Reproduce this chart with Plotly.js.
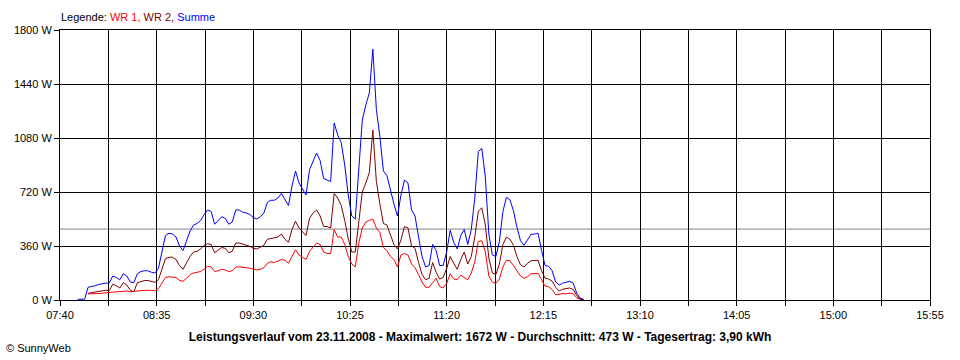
<!DOCTYPE html>
<html>
<head>
<meta charset="utf-8">
<script src="https://cdn.plot.ly/plotly-3.0.1.min.js"></script>
<style>
  html, body { margin: 0; padding: 0; background: #ffffff; }
  #chart { width: 960px; height: 360px; }
</style>
</head>
<body>
<div id="chart"></div>
<script>
// ---- data ----
var dateStr = '2008-11-23';

var times = [
  '07:50','07:52','07:54','07:56','07:58',
  '08:00','08:02','08:04','08:06','08:08',
  '08:10','08:12','08:14','08:16','08:18',
  '08:20','08:22','08:24','08:26','08:28',
  '08:30','08:32','08:34','08:36','08:38',
  '08:40','08:42','08:44','08:46','08:48',
  '08:50','08:52','08:54','08:56','08:58',
  '09:00','09:02','09:04','09:06','09:08',
  '09:10','09:12','09:14','09:16','09:18',
  '09:20','09:22','09:24','09:26','09:28',
  '09:30','09:32','09:34','09:36','09:38',
  '09:40','09:42','09:44','09:46','09:48',
  '09:50','09:52','09:54','09:56','09:58',
  '10:00','10:02','10:04','10:06','10:08',
  '10:10','10:12','10:14','10:16','10:18',
  '10:20','10:22','10:24','10:26','10:28',
  '10:30','10:32','10:34','10:36','10:38',
  '10:40','10:42','10:44','10:46','10:48',
  '10:50','10:52','10:54','10:56','10:58',
  '11:00','11:02','11:04','11:06','11:08',
  '11:10','11:12','11:14','11:16','11:18',
  '11:20','11:22','11:24','11:26','11:28',
  '11:30','11:32','11:34','11:36','11:38',
  '11:40','11:42','11:44','11:46','11:48',
  '11:50','11:52','11:54','11:56','11:58',
  '12:00','12:02','12:04','12:06','12:08',
  '12:10','12:12','12:14','12:16','12:18',
  '12:20','12:22','12:24','12:26','12:28',
  '12:30','12:32','12:34','12:36','12:38',
  '12:40','12:42','12:44','12:46','12:48',
  '12:50','12:52','12:54','12:56','12:58'
];

var summe = [
  5,5,5,85,88,
  95,103,110,113,112,
  160,150,135,175,160,
  120,115,175,190,195,
  195,185,180,210,320,
  430,445,440,420,360,
  330,390,460,500,510,
  530,570,600,590,505,
  530,555,545,505,520,
  600,600,585,580,570,
  550,540,555,580,650,
  665,665,680,710,670,
  630,760,860,780,740,
  700,870,930,980,930,
  810,800,790,1180,1100,
  1050,900,700,560,540,
  900,1200,1300,1380,1672,
  1270,1090,860,830,730,
  640,560,700,800,780,
  600,560,420,290,220,
  230,370,330,230,230,
  320,465,385,340,430,
  470,370,470,680,990,
  1010,820,440,300,290,
  390,590,685,667,595,
  485,395,365,400,437,
  440,445,330,230,225,
  195,120,100,112,117,
  125,112,45,12,5
];

var wr2 = [
  null,null,null,45,50,
  55,60,65,65,62,
  105,95,80,115,100,
  65,55,115,125,130,
  130,122,118,135,210,
  275,285,285,270,230,
  205,245,290,320,325,
  340,365,375,370,315,
  335,350,345,315,325,
  380,380,370,365,358,
  345,340,350,365,405,
  410,415,420,440,405,
  385,470,525,480,455,
  430,545,580,600,560,
  490,490,480,710,680,
  630,530,410,320,320,
  520,720,780,850,1133,
  790,640,510,500,440,
  370,340,400,490,480,
  360,345,250,170,135,
  145,250,185,140,150,
  210,290,245,205,270,
  320,240,290,420,590,
  615,500,280,180,170,
  240,370,420,405,365,
  290,235,220,245,262,
  262,265,195,145,140,
  125,85,60,72,75,
  80,70,30,5,0
];

var wr1 = [
  null,null,null,40,40,
  42,45,45,48,50,
  55,55,55,60,60,
  55,60,60,62,65,
  65,63,62,75,110,
  150,155,155,150,130,
  125,145,170,180,185,
  190,205,225,220,190,
  195,205,200,190,195,
  220,220,215,215,212,
  205,200,205,215,245,
  255,250,260,270,265,
  245,290,335,300,285,
  270,325,350,380,370,
  320,310,310,470,420,
  420,370,290,240,220,
  380,480,520,530,539,
  480,450,350,330,290,
  270,220,300,310,300,
  240,215,170,120,85,
  85,115,145,90,80,
  110,175,140,135,165,
  150,135,180,255,390,
  395,320,160,120,110,
  140,220,265,262,230,
  195,160,145,155,175,
  178,178,135,92,88,
  70,35,40,42,42,
  45,42,15,5,0
];

var averageW = 473;

var xTickVals = ['07:40:00','08:07:30','08:35:00','09:02:30','09:30:00','09:57:30','10:25:00',
                 '10:52:30','11:20:00','11:47:30','12:15:00','12:42:30','13:10:00','13:37:30',
                 '14:05:00','14:32:30','15:00:00','15:27:30','15:55:00'];
var xTickText = ['07:40','','08:35','','09:30','','10:25','','11:20','','12:15','',
                 '13:10','','14:05','','15:00','','15:55'];
var yTickVals = [0, 360, 720, 1080, 1440, 1800];
var yTickText = ['0 W', '360 W', '720 W', '1080 W', '1440 W', '1800 W'];

var titleText = 'Leistungsverlauf vom 23.11.2008 - Maximalwert: 1672 W - Durchschnitt: 473 W - Tagesertrag: 3,90 kWh';
var legendPrefix = 'Legende: ';
var seriesNames = ['WR 1', 'WR 2', 'Summe'];
var seriesColors = ['#ff0000', '#800000', '#0000ff'];
var copyright = '\u00a9 SunnyWeb';

// ---- build ----
function toDate(t) { return dateStr + ' ' + t; }
var xs = times.map(toDate);

var traces = [wr1, wr2, summe].map(function (ys, i) {
  return {
    x: xs, y: ys, type: 'scatter', mode: 'lines', name: seriesNames[i],
    line: { color: seriesColors[i], width: 1 },
    connectgaps: false, hoverinfo: 'skip'
  };
});

var fontFam = '"Liberation Sans", Arial, Helvetica, sans-serif';

var legendHtml = legendPrefix +
  '<span style="color:' + seriesColors[0] + '">' + seriesNames[0] + ',</span> ' +
  '<span style="color:' + seriesColors[1] + '">' + seriesNames[1] + ',</span> ' +
  '<span style="color:' + seriesColors[2] + '">' + seriesNames[2] + '</span>';

var layout = {
  width: 960, height: 360,
  margin: { l: 60, r: 30, t: 30, b: 60, pad: 0 },
  paper_bgcolor: '#ffffff', plot_bgcolor: '#ffffff',
  font: { family: fontFam, size: 11, color: '#000000' },
  showlegend: false,
  title: {
    text: '<b>' + titleText + '</b>',
    xref: 'container', x: 0.5, xanchor: 'center',
    yref: 'container', y: 1 - 337 / 360, yanchor: 'middle',
    font: { family: fontFam, size: 12, color: '#000000' }
  },
  xaxis: {
    type: 'date',
    range: [toDate('07:40'), toDate('15:55')],
    tickmode: 'array',
    tickvals: xTickVals.map(toDate),
    ticktext: xTickText,
    ticks: 'outside', ticklen: 5, tickwidth: 1, tickcolor: '#000000',
    showgrid: true, gridcolor: '#000000', gridwidth: 1,
    showline: true, linecolor: '#000000', linewidth: 1, mirror: true,
    zeroline: false, fixedrange: true,
    tickfont: { family: fontFam, size: 11, color: '#000000' }
  },
  yaxis: {
    range: [0, 1800],
    tickmode: 'array', tickvals: yTickVals, ticktext: yTickText,
    ticks: 'outside', ticklen: 5, tickwidth: 1, tickcolor: '#000000',
    showgrid: true, gridcolor: '#000000', gridwidth: 1,
    showline: true, linecolor: '#000000', linewidth: 1, mirror: true,
    zeroline: false, fixedrange: true,
    tickfont: { family: fontFam, size: 11, color: '#000000' }
  },
  shapes: [{
    type: 'line', xref: 'paper', x0: 0, x1: 1, yref: 'y', y0: averageW, y1: averageW,
    line: { color: '#808080', width: 1 }, layer: 'between'
  }],
  annotations: [
    {
      text: legendHtml, xref: 'paper', x: 0, xanchor: 'left',
      yref: 'paper', y: 1 + 13 / 270, yanchor: 'middle',
      showarrow: false, borderpad: 0,
      font: { family: fontFam, size: 11, color: '#000000' }
    },
    {
      text: copyright, xref: 'paper', x: (5 - 60) / 870, xanchor: 'left',
      yref: 'paper', y: (300 - 348) / 270, yanchor: 'middle',
      showarrow: false, borderpad: 0,
      font: { family: fontFam, size: 11, color: '#000000' }
    }
  ]
};

Plotly.newPlot('chart', traces, layout, { displayModeBar: false, staticPlot: true });
</script>
</body>
</html>
